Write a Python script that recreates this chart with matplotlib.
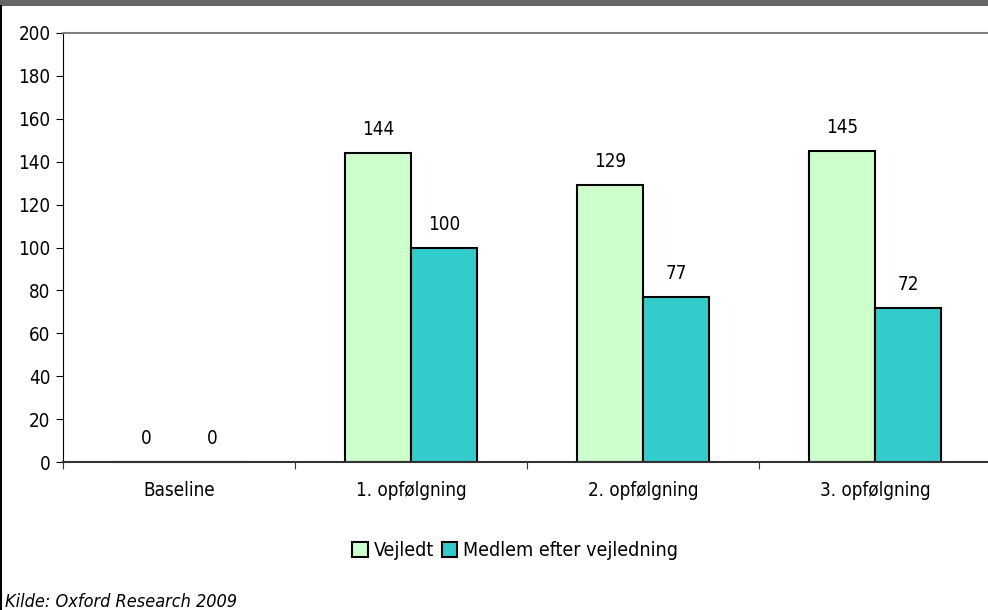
import matplotlib.pyplot as plt
import numpy as np
from matplotlib.patches import Rectangle
from matplotlib.lines import Line2D

categories = ["Baseline", "1. opfølgning", "2. opfølgning", "3. opfølgning"]
vejledt = [0, 144, 129, 145]
medlem = [0, 100, 77, 72]
series_names = ["Vejledt", "Medlem efter vejledning"]

plt.rcParams['font.family'] = ['DejaVu Sans']
plt.rcParams['font.stretch'] = 'condensed'
plt.rcParams['font.size'] = 13.5

W, H = 988, 610
fig = plt.figure(figsize=(W / 100, H / 100), dpi=100)

# top band and left border
fig.patches.append(Rectangle((0, 1 - 6 / H), 1, 6 / H, transform=fig.transFigure,
                             facecolor='#666666', edgecolor='none'))
fig.lines.append(Line2D([1 / W, 1 / W], [0, 1 - 6 / H], transform=fig.transFigure,
                        color='black', lw=1.5))

left, right, top, bottom = 63, 991, 33, 462
ax = fig.add_axes([left / W, (H - bottom) / H, (right - left) / W, (bottom - top) / H])

x = np.arange(len(categories))
bw = 0.284
b1 = ax.bar(x - bw / 2, vejledt, bw, color='#CCFFCC', edgecolor='black', linewidth=1.5,
            label=series_names[0])
b2 = ax.bar(x + bw / 2, medlem, bw, color='#33CCCC', edgecolor='black', linewidth=1.5,
            label=series_names[1])

for bars, vals in [(b1, vejledt), (b2, medlem)]:
    for rect, v in zip(bars, vals):
        ax.annotate(str(v), (rect.get_x() + rect.get_width() / 2, v),
                    xytext=(0, 10), textcoords='offset points', ha='center', va='bottom')

ax.set_ylim(0, 200)
ax.set_yticks(range(0, 201, 20))
ax.set_xlim(-0.5, len(categories) - 0.5)
ax.set_xticks(np.arange(len(categories) + 1) - 0.5)
ax.set_xticklabels([])
ax.set_xticks(x, minor=True)
ax.set_xticklabels(categories, minor=True)
ax.tick_params(axis='x', which='minor', length=0, pad=14)
ax.tick_params(axis='x', which='major', length=5, direction='out', color='#333333')
ax.tick_params(axis='y', length=5, direction='out', pad=4)

ax.spines['left'].set_color('black')
ax.spines['bottom'].set_color('#333333')
ax.spines['bottom'].set_linewidth(1.5)
ax.spines['top'].set_color('#808080')
ax.spines['top'].set_linewidth(1.5)
ax.spines['right'].set_color('#d0d0d0')

fig.legend(handles=[b1, b2], labels=series_names, loc='center', bbox_to_anchor=(515 / W, 1 - 551 / H),
           ncol=2, frameon=False, handlelength=0.8, handleheight=0.8, handletextpad=0.3,
           columnspacing=0.4, fontsize=14)

fig.text(5 / W, 1 - 602 / H, "Kilde: Oxford Research 2009", style='italic', fontsize=13,
         ha='left', va='center')

fig.savefig('out.png', dpi=100)
